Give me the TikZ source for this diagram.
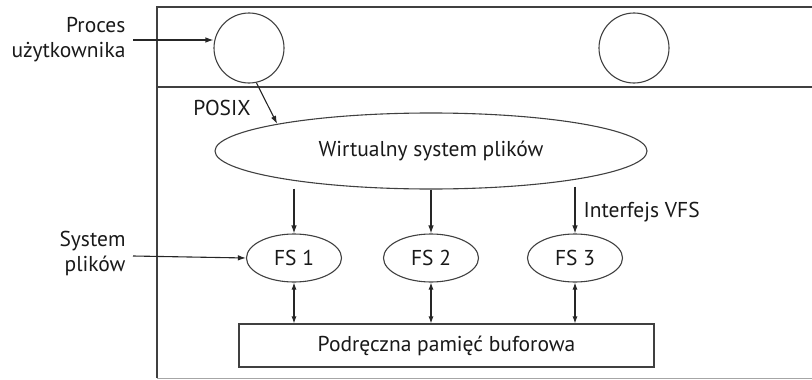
\documentclass[tikz,border=0pt]{standalone}
\usepackage{fontspec}
\setmainfont{PT Sans}
\usetikzlibrary{arrows.meta,shapes.geometric}
\begin{document}
\begin{tikzpicture}[x=1pt,y=-1pt,
  line width=1.1pt,
  every node/.style={font=\fontsize{21.5}{25}\selectfont, text=black!90},
  frameline/.style={draw=black!75, line width=1.3pt},
  proc/.style={circle, draw=black!75, minimum size=70pt, inner sep=0pt},
  vfsell/.style={ellipse, draw=black!75, minimum width=432pt, minimum height=76pt, inner sep=0pt},
  fsell/.style={ellipse, draw=black!75, minimum width=95pt, minimum height=48pt, inner sep=0pt},
  cachebox/.style={rectangle, draw=black!75, minimum width=415pt, minimum height=43pt, inner sep=0pt},
  label/.style={align=right, anchor=east, inner sep=0pt},
  arr/.style={-{Latex[length=8pt,width=5.5pt]}, draw=black!85},
  darr/.style={{Latex[length=7pt,width=5pt]}-{Latex[length=7pt,width=5pt]}, draw=black!85}
]
\useasboundingbox (0,0) rectangle (812,380);

% outer frame and the band for user processes
\draw[frameline] (157,378) -- (157,7) -- (813,7);
\draw[frameline] (157,87) -- (813,87);
\draw[frameline, draw=black!35] (157,378.5) -- (813,378.5);

% user processes
\node[proc] (p1) at (249,48) {};
\node[proc] (p2) at (634,48) {};

% virtual file system
\node[vfsell] (vfs) at (431,151) {Wirtualny system plików};

% concrete file systems
\node[fsell] (fs1) at (294,258) {FS 1};
\node[fsell] (fs2) at (431,258) {FS 2};
\node[fsell] (fs3) at (575,258) {FS 3};

% buffer cache
\node[cachebox] (cache) at (446.5,345.5) {Podręczna pamięć buforowa};

% side labels
\node[label] (lproc) at (126,40) {Proces\\użytkownika};
\node[label] (lfs) at (126,253) {System\\plików};
\coordinate (lprocend) at (133,40);
\coordinate (lfsend) at (133,256);

\draw[arr] (lprocend) -- (lprocend -| p1.west);
\draw[arr] (lfsend) -- (fs1.west);

% POSIX call
\draw[arr] (p1.-78) -- (vfs.170);
\node[anchor=center] (posix) at (222,108) {POSIX};

% VFS interface
\draw[arr] (vfs.south -| fs1.north) ++(0,-1) coordinate (v1) (v1) -- (fs1.north);
\draw[arr] (vfs.south -| fs2.north) -- (fs2.north);
\draw[arr] (vfs.south -| fs3.north) ++(0,-3) coordinate (v3) (v3) -- (fs3.north);
\node[anchor=west, inner sep=0pt] (ivfs) at (583,212) {Interfejs VFS};

% file systems <-> cache
\draw[darr] (fs1.south) -- (fs1.south |- cache.north);
\draw[darr] (fs2.south) -- (fs2.south |- cache.north);
\draw[darr] (fs3.south) -- (fs3.south |- cache.north);
\end{tikzpicture}
\end{document}
